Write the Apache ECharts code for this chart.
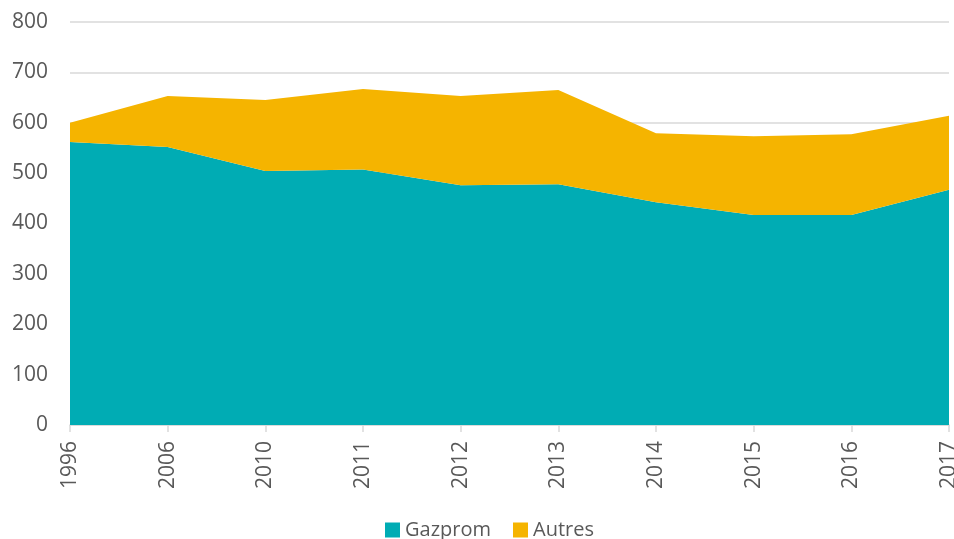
<!DOCTYPE html>
<html>
<head>
<meta charset="utf-8">
<script src="https://cdn.jsdelivr.net/npm/echarts@6/dist/echarts.min.js"></script>
<style>
  html, body { margin: 0; padding: 0; background: #fff; }
  #chart { width: 954px; height: 539px; }
</style>
</head>
<body>
<div id="chart"></div>
<script>
const years = ['1996', '2006', '2010', '2011', '2012', '2013', '2014', '2015', '2016', '2017']
const gazprom = [562, 552, 504, 507, 476, 478, 442, 417, 417, 467]
const autres = [38, 101, 141, 160, 177, 187, 137, 156, 160, 147]

const font = '"Open Sans", "Liberation Sans", sans-serif'
const chart = echarts.init(document.getElementById('chart'))

chart.setOption({
  animation: false,
  textStyle: { fontFamily: font },
  grid: {
    left: 70,
    right: 5,
    top: 22,
    bottom: 114,
    outerBoundsMode: 'none'
  },
  legend: {
    left: 380,
    top: 515,
    itemWidth: 15,
    itemHeight: 15,
    itemGap: 22,
    itemTextGap: 5,
    icon: 'rect',
    textStyle: { fontSize: 20, color: '#595959', fontFamily: font },
    data: ['Gazprom', 'Autres']
  },
  xAxis: {
    type: 'category',
    boundaryGap: false,
    data: years,
    axisLine: { lineStyle: { color: '#d9d9d9', width: 1.5 } },
    axisTick: { show: true, length: 7, lineStyle: { color: '#d9d9d9', width: 1.5 } },
    axisLabel: {
      rotate: 90,
      interval: 0,
      fontSize: 21,
      color: '#595959',
      margin: 16
    }
  },
  yAxis: {
    type: 'value',
    min: 0,
    max: 800,
    interval: 100,
    axisLine: { show: false },
    axisTick: { show: false },
    axisLabel: { fontSize: 21, color: '#595959', margin: 22 },
    splitLine: { lineStyle: { color: '#d9d9d9', width: 1.5 } }
  },
  series: [
    {
      name: 'Gazprom',
      type: 'line',
      stack: 'total',
      symbol: 'none',
      lineStyle: { width: 0 },
      areaStyle: { color: '#00acb4', opacity: 1 },
      itemStyle: { color: '#00acb4' },
      data: gazprom
    },
    {
      name: 'Autres',
      type: 'line',
      stack: 'total',
      symbol: 'none',
      lineStyle: { width: 0 },
      areaStyle: { color: '#f5b400', opacity: 1 },
      itemStyle: { color: '#f5b400' },
      data: autres
    }
  ]
})
</script>
</body>
</html>
